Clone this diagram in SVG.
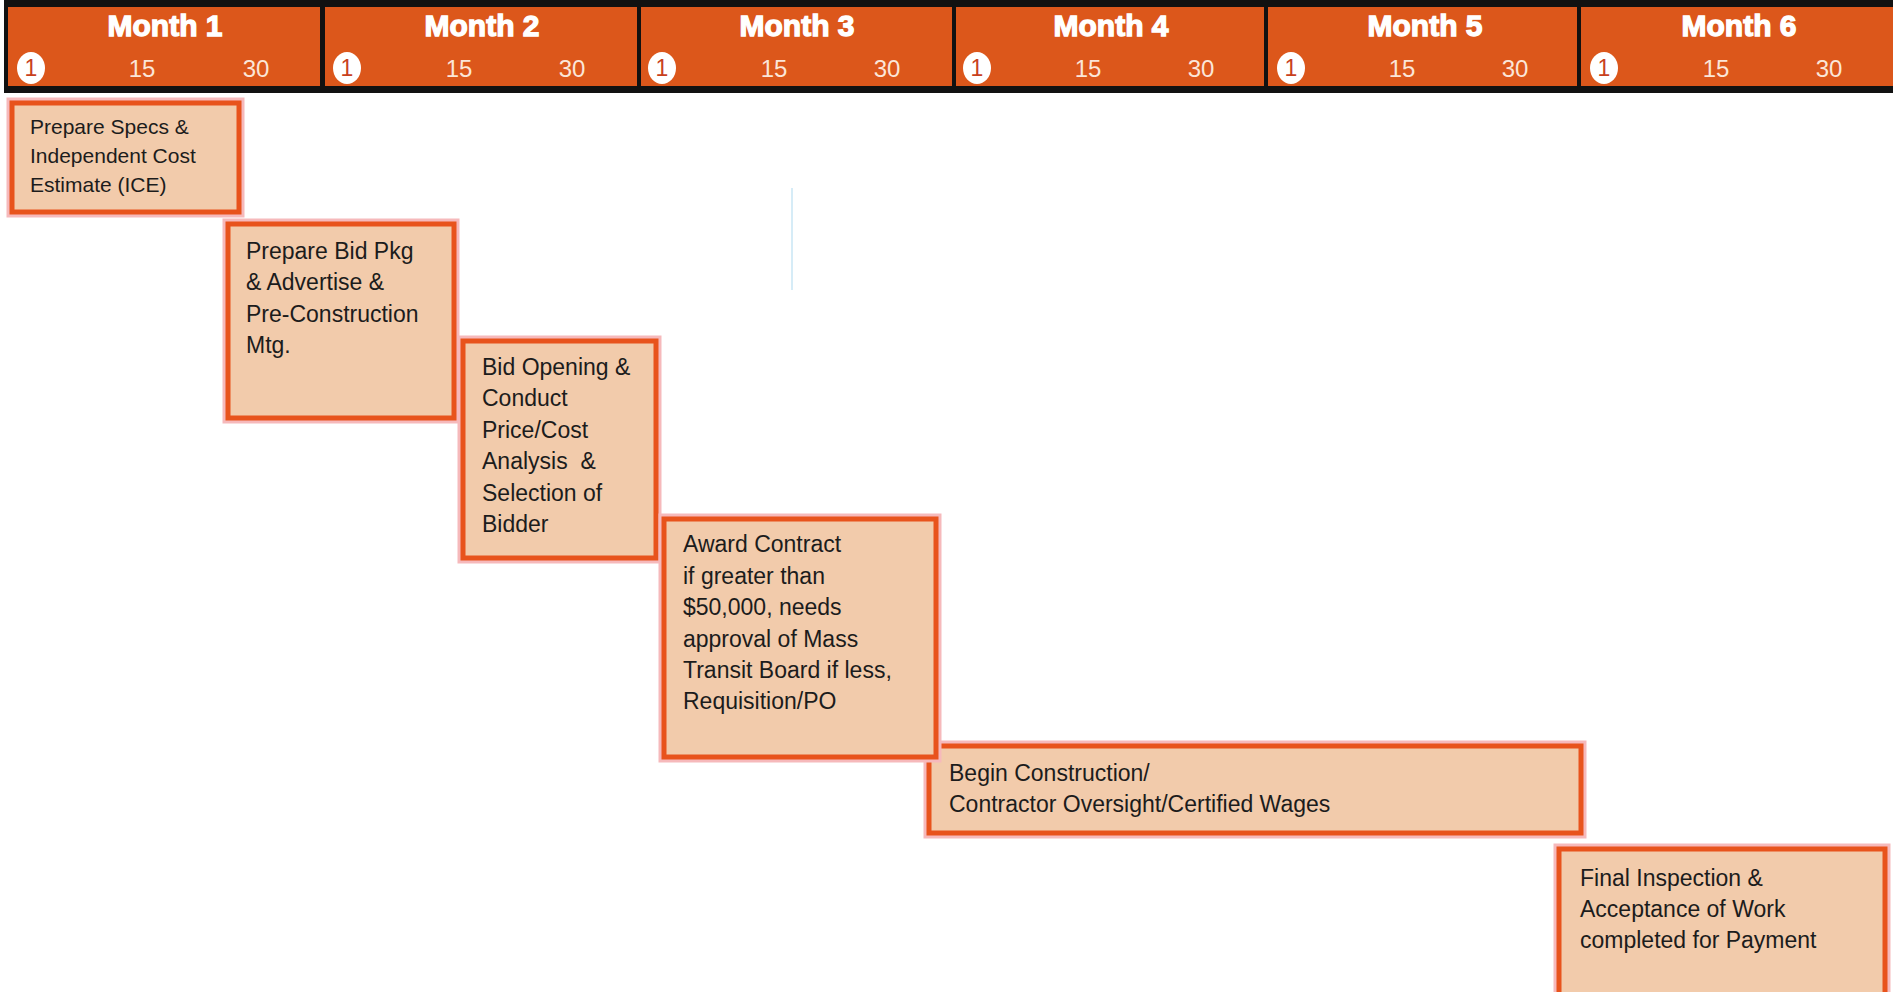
<svg xmlns="http://www.w3.org/2000/svg" width="1893" height="992" viewBox="0 0 1893 992">
<style>
.mo{fill:#dc571b}
.ml{font-family:"Liberation Sans",Arial,sans-serif;font-weight:bold;font-size:30px;fill:#ffffff;stroke:#ffffff;stroke-width:1.3;text-anchor:middle}
.dn{font-family:"Liberation Sans",Arial,sans-serif;font-size:24px;fill:#fbe6d8;text-anchor:middle}
.c1{fill:#ffffff}
.c1t{font-family:"Liberation Sans",Arial,sans-serif;font-size:23px;fill:#c8401c;text-anchor:middle}
.halo{fill:none;stroke:#f6b9bb;stroke-width:11}
.box{fill:#f2cbab;stroke:#e8531c;stroke-width:5}
.tx{font-family:"Liberation Sans",Arial,sans-serif;font-size:23px;fill:#1c1c1c}
.tx1{font-family:"Liberation Sans",Arial,sans-serif;font-size:21px;fill:#1c1c1c}
</style>
<rect width="1893" height="992" fill="#ffffff"/>
<g id="header">
<rect x="4" y="0" width="1889" height="93" fill="#111111"/>
<rect class="mo" x="8" y="7" width="312" height="79"/>
<rect class="mo" x="325" y="7" width="312" height="79"/>
<rect class="mo" x="641" y="7" width="311" height="79"/>
<rect class="mo" x="956" y="7" width="308" height="79"/>
<rect class="mo" x="1268" y="7" width="309" height="79"/>
<rect class="mo" x="1581" y="7" width="312" height="79"/>
<g id="month1">
<text class="ml" x="165" y="36">Month 1</text>
<ellipse class="c1" cx="31" cy="68" rx="14" ry="16"/><text class="c1t" x="31" y="76">1</text>
<text class="dn" x="142" y="77">15</text><text class="dn" x="256" y="77">30</text>
</g>
<g id="month2">
<text class="ml" x="482" y="36">Month 2</text>
<ellipse class="c1" cx="347" cy="68" rx="14" ry="16"/><text class="c1t" x="347" y="76">1</text>
<text class="dn" x="459" y="77">15</text><text class="dn" x="572" y="77">30</text>
</g>
<g id="month3">
<text class="ml" x="797" y="36">Month 3</text>
<ellipse class="c1" cx="662" cy="68" rx="14" ry="16"/><text class="c1t" x="662" y="76">1</text>
<text class="dn" x="774" y="77">15</text><text class="dn" x="887" y="77">30</text>
</g>
<g id="month4">
<text class="ml" x="1111" y="36">Month 4</text>
<ellipse class="c1" cx="977" cy="68" rx="14" ry="16"/><text class="c1t" x="977" y="76">1</text>
<text class="dn" x="1088" y="77">15</text><text class="dn" x="1201" y="77">30</text>
</g>
<g id="month5">
<text class="ml" x="1425" y="36">Month 5</text>
<ellipse class="c1" cx="1291" cy="68" rx="14" ry="16"/><text class="c1t" x="1291" y="76">1</text>
<text class="dn" x="1402" y="77">15</text><text class="dn" x="1515" y="77">30</text>
</g>
<g id="month6">
<text class="ml" x="1739" y="36">Month 6</text>
<ellipse class="c1" cx="1604" cy="68" rx="14" ry="16"/><text class="c1t" x="1604" y="76">1</text>
<text class="dn" x="1716" y="77">15</text><text class="dn" x="1829" y="77">30</text>
</g>
</g>
<line x1="792" y1="188" x2="792" y2="290" stroke="#d6ecf7" stroke-width="2"/>
<g id="connectors"></g>
<g id="task1">
<rect class="halo" x="12" y="103" width="227" height="109"/>
<rect class="box" x="12" y="103" width="227" height="109"/>
<text class="tx1" x="30" y="134">Prepare Specs &amp;</text>
<text class="tx1" x="30" y="163">Independent Cost</text>
<text class="tx1" x="30" y="192">Estimate (ICE)</text>
</g>
<g id="task2">
<rect class="halo" x="228" y="224" width="226" height="194"/>
<rect class="box" x="228" y="224" width="226" height="194"/>
<text class="tx" x="246" y="259">Prepare Bid Pkg</text>
<text class="tx" x="246" y="290">&amp; Advertise &amp;</text>
<text class="tx" x="246" y="322">Pre-Construction</text>
<text class="tx" x="246" y="353">Mtg.</text>
</g>
<g id="task3">
<rect class="halo" x="463" y="341" width="193" height="217"/>
<rect class="box" x="463" y="341" width="193" height="217"/>
<text class="tx" x="482" y="375">Bid Opening &amp;</text>
<text class="tx" x="482" y="406">Conduct</text>
<text class="tx" x="482" y="438">Price/Cost</text>
<text class="tx" x="482" y="469" xml:space="preserve">Analysis  &amp;</text>
<text class="tx" x="482" y="501">Selection of</text>
<text class="tx" x="482" y="532">Bidder</text>
</g>
<g id="task5">
<rect class="halo" x="929" y="746" width="652" height="87"/>
<rect class="box" x="929" y="746" width="652" height="87"/>
<text class="tx" x="949" y="781">Begin Construction/</text>
<text class="tx" x="949" y="812">Contractor Oversight/Certified Wages</text>
</g>
<g id="task4">
<rect class="halo" x="664" y="519" width="272" height="238"/>
<rect class="box" x="664" y="519" width="272" height="238"/>
<text class="tx" x="683" y="552">Award Contract</text>
<text class="tx" x="683" y="584">if greater than</text>
<text class="tx" x="683" y="615">$50,000, needs</text>
<text class="tx" x="683" y="647">approval of Mass</text>
<text class="tx" x="683" y="678">Transit Board if less,</text>
<text class="tx" x="683" y="709">Requisition/PO</text>
</g>
<g id="task6">
<rect class="halo" x="1559" y="849" width="326" height="160"/>
<rect class="box" x="1559" y="849" width="326" height="160"/>
<text class="tx" x="1580" y="886">Final Inspection &amp;</text>
<text class="tx" x="1580" y="917">Acceptance of Work</text>
<text class="tx" x="1580" y="948">completed for Payment</text>
</g>
</svg>
